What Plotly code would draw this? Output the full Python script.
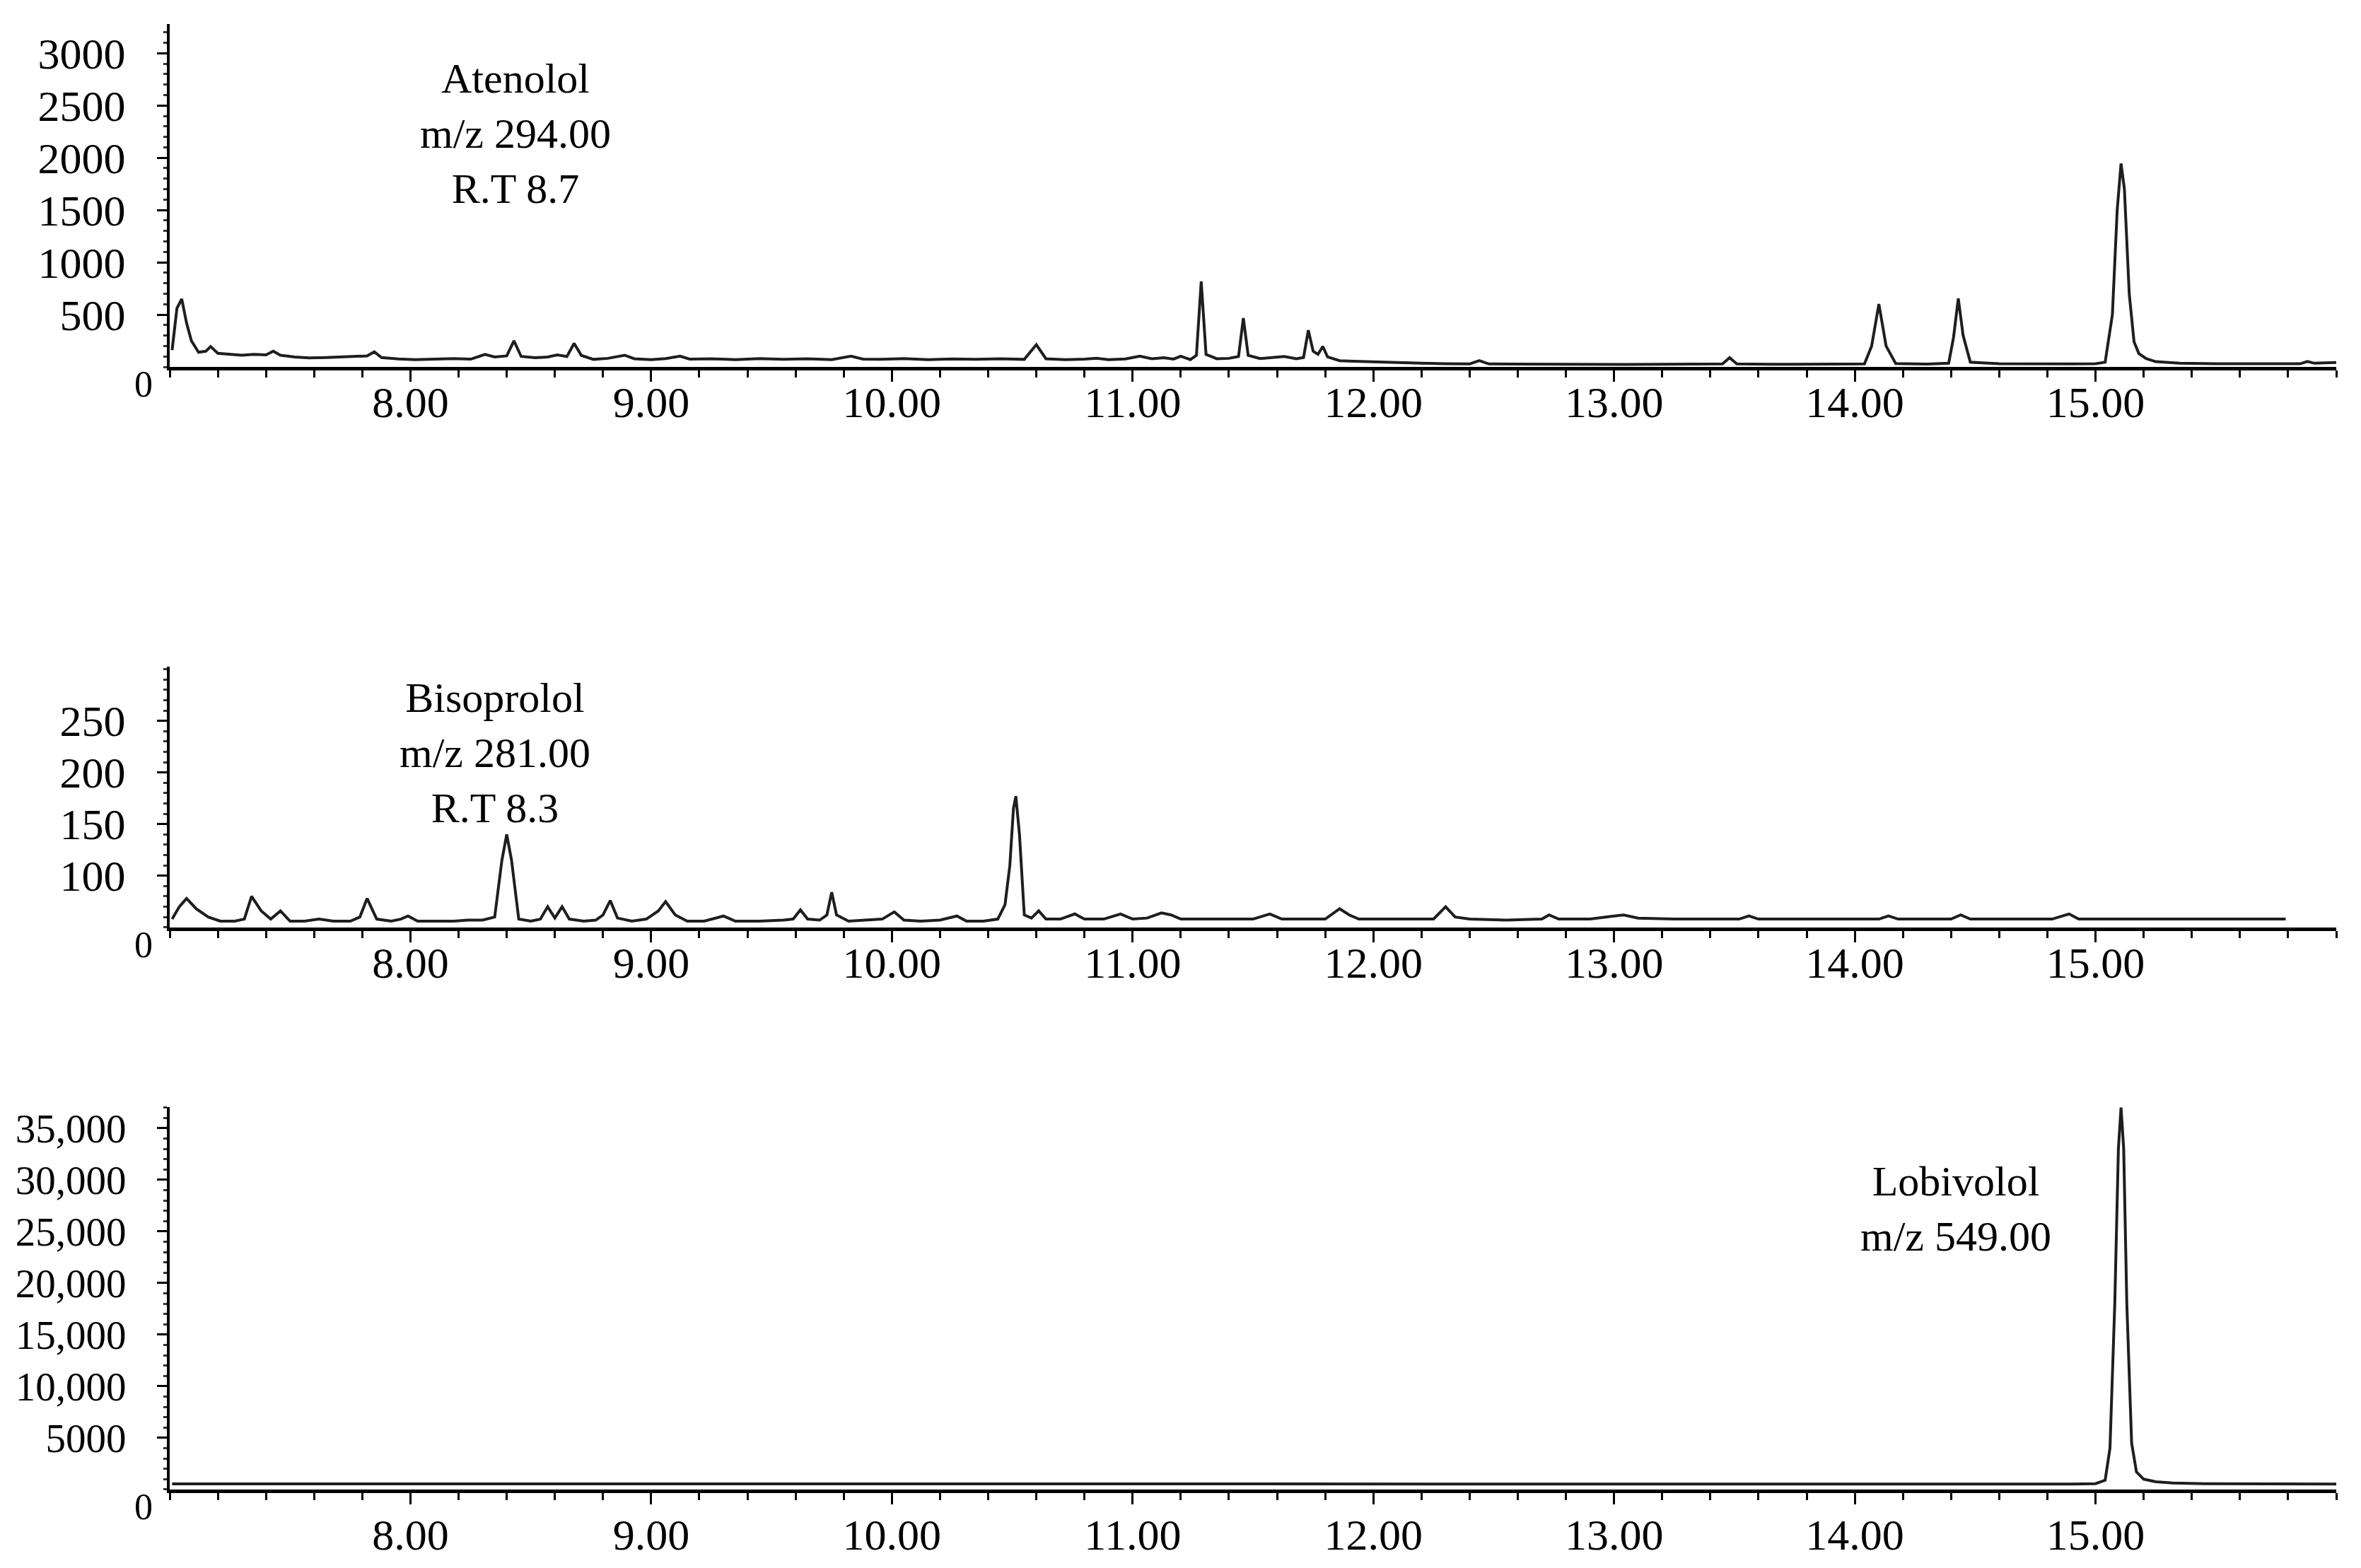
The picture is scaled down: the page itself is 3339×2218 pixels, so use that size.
import plotly.graph_objects as go
from plotly.subplots import make_subplots

# --- Atenolol m/z 294.00 (retention time in min, intensity) ---
aten_t = [7.01, 7.03, 7.05, 7.07, 7.09, 7.12, 7.15, 7.17, 7.20, 7.25, 7.30, 7.35, 7.40, 7.43, 7.46,
          7.52, 7.58, 7.65, 7.72, 7.78, 7.82, 7.85, 7.88, 7.95, 8.02, 8.10, 8.18, 8.25, 8.31, 8.35,
          8.40, 8.43, 8.46, 8.52, 8.57, 8.61, 8.65, 8.68, 8.71, 8.76, 8.82, 8.89, 8.93, 9.00, 9.06,
          9.12, 9.16, 9.25, 9.35, 9.45, 9.55, 9.65, 9.75, 9.83, 9.88, 9.95, 10.05, 10.15, 10.25, 10.35,
          10.45, 10.55, 10.60, 10.64, 10.72, 10.80, 10.85, 10.90, 10.97, 11.03, 11.08, 11.13, 11.17, 11.20, 11.24,
          11.265, 11.285, 11.305, 11.35, 11.40, 11.44, 11.46, 11.48, 11.53, 11.58, 11.63, 11.68, 11.71, 11.73, 11.75,
          11.77, 11.79, 11.81, 11.86, 11.92, 12.00, 12.10, 12.20, 12.30, 12.40, 12.44, 12.48, 12.60, 12.75, 12.90,
          13.05, 13.20, 13.35, 13.45, 13.48, 13.51, 13.65, 13.80, 13.95, 14.04, 14.07, 14.10, 14.13, 14.17, 14.30,
          14.39, 14.41, 14.43, 14.45, 14.48, 14.60, 14.75, 14.90, 15.00, 15.04, 15.07, 15.09, 15.106, 15.12, 15.14,
          15.16, 15.18, 15.21, 15.25, 15.35, 15.50, 15.65, 15.80, 15.85, 15.88, 15.91, 16.00]
aten_i = [160, 560, 650, 420, 250, 140, 150, 195, 130, 118, 112, 120, 115, 150, 112,
          95, 86, 90, 95, 100, 105, 145, 90, 76, 70, 75, 80, 74, 120, 95,
          105, 250, 100, 88, 95, 115, 100, 225, 110, 72, 82, 112, 78, 70, 80,
          103, 75, 78, 70, 80, 72, 78, 70, 103, 75, 72, 80, 70, 76, 72,
          78, 72, 213, 78, 70, 74, 82, 70, 76, 103, 78, 88, 75, 103, 70,
          110, 817, 120, 78, 82, 100, 466, 110, 80, 90, 100, 78, 90, 351, 150,
          120, 196, 95, 60, 55, 48, 40, 35, 30, 28, 60, 28, 27, 25, 27,
          24, 26, 24, 28, 88, 28, 25, 24, 26, 28, 200, 601, 200, 32, 27,
          35, 280, 655, 300, 45, 30, 27, 28, 30, 45, 500, 1500, 1945, 1700, 700,
          240, 128, 80, 50, 35, 30, 28, 27, 30, 52, 35, 42]

# --- Bisoprolol m/z 281.00 ---
biso_t = [7.01, 7.04, 7.07, 7.11, 7.16, 7.21, 7.27, 7.31, 7.34, 7.38, 7.42, 7.46, 7.50, 7.56, 7.62,
          7.68, 7.75, 7.79, 7.82, 7.86, 7.92, 7.96, 7.99, 8.03, 8.10, 8.18, 8.24, 8.30, 8.35, 8.38,
          8.40, 8.42, 8.45, 8.50, 8.54, 8.57, 8.60, 8.63, 8.66, 8.72, 8.77, 8.80, 8.83, 8.86, 8.92,
          8.98, 9.03, 9.06, 9.10, 9.15, 9.22, 9.30, 9.35, 9.45, 9.55, 9.59, 9.62, 9.65, 9.70, 9.73,
          9.75, 9.77, 9.82, 9.90, 9.96, 10.01, 10.05, 10.12, 10.20, 10.27, 10.31, 10.38, 10.44, 10.47, 10.49,
          10.505, 10.515, 10.53, 10.55, 10.58, 10.61, 10.64, 10.70, 10.76, 10.80, 10.88, 10.95, 11.00, 11.06, 11.12,
          11.16, 11.20, 11.30, 11.40, 11.50, 11.57, 11.62, 11.70, 11.80, 11.86, 11.90, 11.94, 12.05, 12.15, 12.25,
          12.30, 12.34, 12.40, 12.55, 12.70, 12.73, 12.77, 12.90, 13.00, 13.04, 13.10, 13.25, 13.40, 13.52, 13.56,
          13.60, 13.80, 14.00, 14.10, 14.14, 14.18, 14.30, 14.40, 14.44, 14.48, 14.65, 14.82, 14.89, 14.93, 15.10,
          15.30, 15.50, 15.79]
biso_i = [58, 70, 78, 68, 60, 56, 56, 58, 80, 66, 58, 66, 56, 56, 58,
          56, 56, 60, 78, 58, 56, 58, 61, 56, 56, 56, 57, 57, 60, 115,
          140, 115, 58, 56, 58, 70, 59, 70, 58, 56, 57, 62, 76, 59, 56,
          58, 66, 75, 62, 56, 56, 61, 56, 56, 57, 58, 67, 58, 57, 62,
          84, 62, 56, 57, 58, 65, 57, 56, 57, 61, 56, 56, 58, 72, 110,
          165, 177, 140, 62, 59, 66, 58, 58, 63, 58, 58, 63, 58, 59, 64,
          62, 58, 58, 58, 58, 63, 58, 58, 58, 68, 62, 58, 58, 58, 58,
          70, 60, 58, 57, 58, 62, 58, 58, 61, 62, 59, 58, 58, 58, 61,
          58, 58, 58, 58, 61, 58, 58, 58, 62, 58, 58, 58, 63, 58, 58,
          58, 58, 58]

# --- Lobivolol m/z 549.00 ---
lobi_t = [7.01, 8.0, 9.0, 10.0, 11.0, 12.0, 13.0, 14.0, 14.9, 15.00, 15.04, 15.06, 15.08, 15.095,
          15.106, 15.117, 15.13, 15.15, 15.17, 15.20, 15.25, 15.32, 15.45, 15.6, 15.8, 16.0]
lobi_i = [540, 530, 530, 540, 530, 530, 530, 530, 530, 560, 900, 4000, 18000, 33000,
          37000, 33000, 18000, 4500, 1700, 1000, 750, 620, 560, 540, 530, 520]

x_ticks = [8, 9, 10, 11, 12, 13, 14, 15]
x_labels = ["8.00", "9.00", "10.00", "11.00", "12.00", "13.00", "14.00", "15.00"]

aten_ticks = [500, 1000, 1500, 2000, 2500, 3000]
biso_ticks = [100, 150, 200, 250]
lobi_ticks = [5000, 10000, 15000, 20000, 25000, 30000, 35000]
lobi_labels = ["5000", "10,000", "15,000", "20,000", "25,000", "30,000", "35,000"]

W, H = 3339, 2218
FONT = "Liberation Serif"

fig = make_subplots(rows=3, cols=1)

series = [(aten_t, aten_i), (biso_t, biso_i), (lobi_t, lobi_i)]
for k, (t, i) in enumerate(series):
    fig.add_trace(go.Scatter(x=t, y=i, mode="lines",
                             line=dict(color="#1e1e1e", width=4)),
                  row=k + 1, col=1)

# panel domains (fractions of plot height, from pixel layout)
domains = [[0.7666, 0.9935], [0.3958, 0.5683], [0.0239, 0.2769]]
y_ranges = [[0, 3280], [50, 302.5], [0, 37050]]
y_minor = [100, 10, 1000]
y_tv = [aten_ticks, biso_ticks, lobi_ticks]
y_tt = [[str(v) for v in aten_ticks], [str(v) for v in biso_ticks], lobi_labels]
y_fs = [62, 62, 57]
x_standoff = [-24, -24, -10]

for k in range(3):
    xa = "xaxis" if k == 0 else f"xaxis{k+1}"
    ya = "yaxis" if k == 0 else f"yaxis{k+1}"
    fig.layout[xa].update(
        range=[7.0, 16.0], domain=[0, 1], automargin=False,
        tickvals=x_ticks, ticktext=x_labels,
        ticks="outside", ticklen=16, tickwidth=3, tickcolor="black",
        minor=dict(tick0=7.0, dtick=0.2, ticks="outside", ticklen=10,
                   tickwidth=3, tickcolor="black"),
        showline=True, linecolor="black", linewidth=5,
        showgrid=False, zeroline=False,
        tickfont=dict(family=FONT, size=62, color="black"),
        ticklabelstandoff=x_standoff[k],
    )
    fig.layout[ya].update(
        range=y_ranges[k], domain=domains[k], automargin=False,
        tickvals=y_tv[k], ticktext=y_tt[k],
        ticks="outside", ticklen=14, tickwidth=3, tickcolor="black",
        minor=dict(dtick=y_minor[k], ticks="outside", ticklen=5,
                   tickwidth=3, tickcolor="#333"),
        showline=True, linecolor="black", linewidth=4,
        showgrid=False, zeroline=False,
        tickfont=dict(family=FONT, size=y_fs[k], color="black"),
        ticklabelstandoff=32,
    )

labels = [
    dict(x=8.435, y=2230, xref="x", yref="y",
         text="Atenolol<br>m/z 294.00<br>R.T 8.7"),
    dict(x=8.35, y=219, xref="x2", yref="y2",
         text="Bisoprolol<br>m/z 281.00<br>R.T 8.3"),
    dict(x=14.42, y=27190, xref="x3", yref="y3",
         text="Lobivolol<br>m/z 549.00"),
]
for a in labels:
    fig.add_annotation(**a, showarrow=False, xanchor="center", yanchor="middle",
                       font=dict(family=FONT, size=60, color="black"))

# origin "0" markers at each panel corner
for k in range(3):
    fig.add_annotation(x=7.0, y=y_ranges[k][0], xref=f"x{k+1}" if k else "x",
                       yref=f"y{k+1}" if k else "y", text="0", showarrow=False,
                       xanchor="right", yanchor="top", xshift=-22, yshift=6,
                       font=dict(family=FONT, size=52, color="black"))

fig.update_layout(
    width=W, height=H,
    margin=dict(l=240, r=35, t=20, b=60),
    paper_bgcolor="white", plot_bgcolor="white",
    showlegend=False,
)

fig.write_html("out.html", config={"displayModeBar": False},
               post_script="document.body.style.margin='0px';")
